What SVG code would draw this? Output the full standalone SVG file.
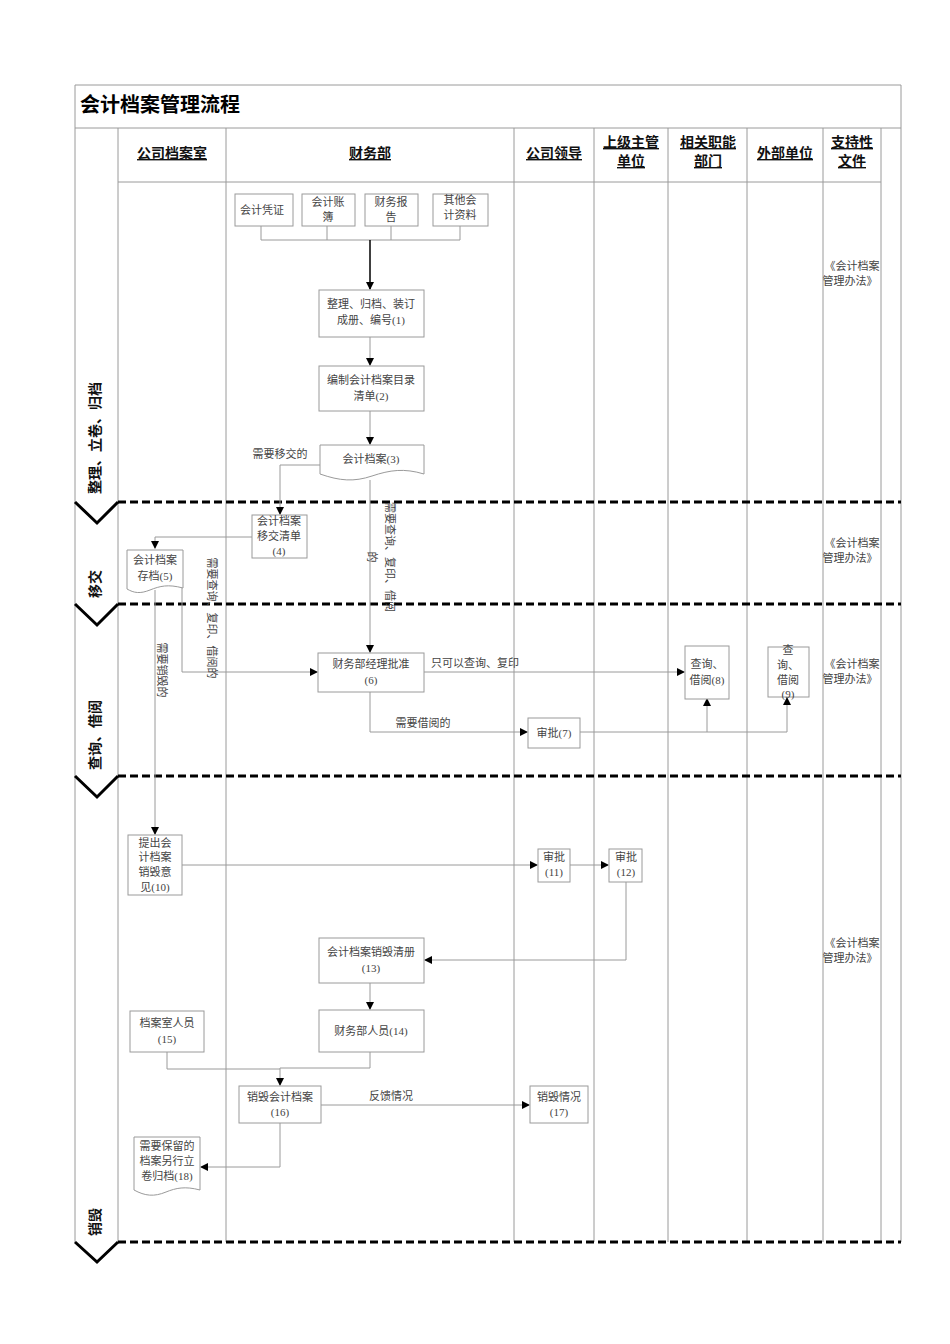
<svg xmlns="http://www.w3.org/2000/svg" width="950" height="1344" viewBox="0 0 950 1344">
<defs>
<marker id="arr" markerWidth="8" markerHeight="8" refX="7" refY="4" orient="auto" markerUnits="userSpaceOnUse">
<path d="M0,0 L8,4 L0,8 Z" fill="#000"/>
</marker>
<style>
.grid{stroke:#9a9a9a;stroke-width:1;fill:none}
.lane{stroke:#000;stroke-width:3;stroke-dasharray:8,4;fill:none}
.chev{stroke:#000;stroke-width:3;fill:none}
.box{fill:#fff;stroke:#9a9a9a;stroke-width:1}
.t{font-family:"Liberation Serif","Noto Sans CJK SC",serif;font-size:11px;fill:#444;text-anchor:middle}
.h{font-family:"Liberation Sans","Noto Sans CJK SC",sans-serif;font-size:14px;font-weight:bold;fill:#111;text-anchor:middle;text-decoration:underline}
.ll{font-family:"Liberation Sans","Noto Sans CJK SC",sans-serif;font-size:14px;font-weight:bold;fill:#111;text-anchor:middle}
.c{stroke:#9a9a9a;stroke-width:1;fill:none}
.ca{stroke:#9a9a9a;stroke-width:1;fill:none;marker-end:url(#arr)}
</style>
</defs>
<rect width="950" height="1344" fill="#fff"/>

<g id="grid">
<path class="grid" d="M75,85 H901 M75,128 H901 M118,182 H881 M75,85 V1242 M901,85 V1242 M118,128 V1242 M226,128 V1242 M514,128 V1242 M594,128 V1242 M668,128 V1242 M747,128 V1242 M823,128 V1242 M881,128 V1242"/>
<text x="80" y="112" font-family="Liberation Sans,'Noto Sans CJK SC',sans-serif" font-size="20" font-weight="bold" fill="#000">会计档案管理流程</text>
<text class="h" x="172" y="158">公司档案室</text>
<text class="h" x="370" y="158">财务部</text>
<text class="h" x="554" y="158">公司领导</text>
<text class="h" x="631" y="147">上级主管</text>
<text class="h" x="631" y="166">单位</text>
<text class="h" x="708" y="147">相关职能</text>
<text class="h" x="708" y="166">部门</text>
<text class="h" x="785" y="158">外部单位</text>
<text class="h" x="852" y="147">支持性</text>
<text class="h" x="852" y="166">文件</text>
</g>

<g id="lanes">
<path class="lane" d="M118,502 H901 M118,604 H901 M118,776 H901 M118,1242 H901"/>
<path class="chev" d="M75,502 L97,523 L118,502 M75,604 L97,625 L118,604 M75,776 L97,797 L118,776 M75,1242 L97,1262 L118,1242"/>
<text class="ll" transform="translate(100,438) rotate(-90)">整理、立卷、归档</text>
<text class="ll" transform="translate(100,584) rotate(-90)">移交</text>
<text class="ll" transform="translate(100,735) rotate(-90)">查询、借阅</text>
<text class="ll" transform="translate(100,1222) rotate(-90)">销毁</text>
</g>

<g id="docs-support">
<text class="t" x="852" y="270">《会计档案</text><text class="t" x="850" y="285">管理办法》</text>
<text class="t" x="852" y="547">《会计档案</text><text class="t" x="850" y="562">管理办法》</text>
<text class="t" x="852" y="668">《会计档案</text><text class="t" x="850" y="683">管理办法》</text>
<text class="t" x="852" y="947">《会计档案</text><text class="t" x="850" y="962">管理办法》</text>
</g>

<g id="connectors">
<path class="c" d="M261,226 V240 M327,226 V240 M391,226 V240 M460,226 V240 M261,240 H460"/>
<path d="M370,240 V289" stroke="#000" stroke-width="1.5" fill="none" marker-end="url(#arr)"/>
<path class="ca" d="M370,337 V365"/>
<path class="ca" d="M370,411 V444"/>
<path class="ca" d="M320,465 H280 V514"/>
<path class="ca" d="M370,480 V652"/>
<path class="ca" d="M252,537 H155 V548"/>
<path class="ca" d="M182,575 V672 H317"/>
<path class="ca" d="M155,590 V834"/>
<path class="ca" d="M424,672 H684"/>
<path class="ca" d="M370,692 V732 H527"/>
<path class="ca" d="M580,732 H787 V698"/>
<path class="ca" d="M707,732 V699"/>
<path class="ca" d="M182,865 H537"/>
<path class="ca" d="M570,865 H608"/>
<path class="ca" d="M626,882 V960 H425"/>
<path class="ca" d="M370,983 V1009"/>
<path class="c" d="M167,1052 V1069 H280 M370,1052 V1068 H280"/>
<path class="ca" d="M280,1068 V1085"/>
<path class="ca" d="M321,1105 H529"/>
<path class="ca" d="M280,1123 V1167 H201"/>
<text class="t" x="280" y="458">需要移交的</text>
<text class="t" transform="translate(386,557) rotate(90)">需要查询、复印、借阅</text>
<text class="t" transform="translate(368,557) rotate(90)">的</text>
<text class="t" transform="translate(208,618) rotate(90)">需要查询、复印、借阅的</text>
<text class="t" transform="translate(158,670) rotate(90)">需要销毁的</text>
<text class="t" x="475" y="667">只可以查询、复印</text>
<text class="t" x="423" y="727">需要借阅的</text>
<text class="t" x="391" y="1100">反馈情况</text>
</g>

<g id="n-pz"><rect class="box" x="235" y="194" width="58" height="32"/><text class="t" x="262" y="214">会计凭证</text></g>
<g id="n-zb"><rect class="box" x="302" y="194" width="53" height="32"/><text class="t" x="328" y="206">会计账</text><text class="t" x="328" y="221">簿</text></g>
<g id="n-bg"><rect class="box" x="365" y="194" width="53" height="32"/><text class="t" x="391" y="206">财务报</text><text class="t" x="391" y="221">告</text></g>
<g id="n-qt"><rect class="box" x="433" y="194" width="55" height="32"/><text class="t" x="460" y="204">其他会</text><text class="t" x="460" y="219">计资料</text></g>
<g id="n1"><rect class="box" x="319" y="290" width="105" height="47"/><text class="t" x="371" y="308">整理、归档、装订</text><text class="t" x="371" y="324">成册、编号(1)</text></g>
<g id="n2"><rect class="box" x="319" y="366" width="105" height="45"/><text class="t" x="371" y="384">编制会计档案目录</text><text class="t" x="371" y="400">清单(2)</text></g>
<g id="n3"><path class="box" d="M320,445 H424 V474 C404,468 390,470 372,476 C354,482 340,481 320,474 Z"/><text class="t" x="371" y="463">会计档案(3)</text></g>
<g id="n4"><rect class="box" x="252" y="515" width="55" height="43"/><text class="t" x="279" y="525">会计档案</text><text class="t" x="279" y="540">移交清单</text><text class="t" x="279" y="555">(4)</text></g>
<g id="n5"><path class="box" d="M127,550 H183 V588 C168,584 160,586 150,590 C140,594 134,593 127,589 Z"/><text class="t" x="155" y="564">会计档案</text><text class="t" x="155" y="580">存档(5)</text></g>
<g id="n6"><rect class="box" x="318" y="653" width="106" height="39"/><text class="t" x="371" y="668">财务部经理批准</text><text class="t" x="371" y="684">(6)</text></g>
<g id="n7"><rect class="box" x="528" y="718" width="52" height="30"/><text class="t" x="554" y="737">审批(7)</text></g>
<g id="n8"><rect class="box" x="685" y="646" width="44" height="53"/><text class="t" x="707" y="668">查询、</text><text class="t" x="707" y="684">借阅(8)</text></g>
<g id="n9"><rect class="box" x="768" y="647" width="41" height="50"/><text class="t" x="788" y="654">查</text><text class="t" x="788" y="669">询、</text><text class="t" x="788" y="684">借阅</text><text class="t" x="788" y="698">(9)</text></g>
<g id="n10"><rect class="box" x="128" y="835" width="54" height="60"/><text class="t" x="155" y="847">提出会</text><text class="t" x="155" y="861">计档案</text><text class="t" x="155" y="876">销毁意</text><text class="t" x="155" y="891">见(10)</text></g>
<g id="n11"><rect class="box" x="538" y="849" width="32" height="33"/><text class="t" x="554" y="861">审批</text><text class="t" x="554" y="876">(11)</text></g>
<g id="n12"><rect class="box" x="609" y="849" width="33" height="33"/><text class="t" x="626" y="861">审批</text><text class="t" x="626" y="876">(12)</text></g>
<g id="n13"><rect class="box" x="319" y="938" width="105" height="45"/><text class="t" x="371" y="956">会计档案销毁清册</text><text class="t" x="371" y="972">(13)</text></g>
<g id="n14"><rect class="box" x="319" y="1010" width="105" height="42"/><text class="t" x="371" y="1035">财务部人员(14)</text></g>
<g id="n15"><rect class="box" x="130" y="1011" width="74" height="41"/><text class="t" x="167" y="1027">档案室人员</text><text class="t" x="167" y="1043">(15)</text></g>
<g id="n16"><rect class="box" x="239" y="1086" width="82" height="37"/><text class="t" x="280" y="1101">销毁会计档案</text><text class="t" x="280" y="1116">(16)</text></g>
<g id="n17"><rect class="box" x="530" y="1086" width="58" height="37"/><text class="t" x="559" y="1101">销毁情况</text><text class="t" x="559" y="1116">(17)</text></g>
<g id="n18"><path class="box" d="M134,1137 H200 V1190 C185,1186 176,1188 166,1192 C154,1197 145,1196 134,1190 Z"/><text class="t" x="167" y="1150">需要保留的</text><text class="t" x="167" y="1165">档案另行立</text><text class="t" x="167" y="1180">卷归档(18)</text></g>
</svg>
